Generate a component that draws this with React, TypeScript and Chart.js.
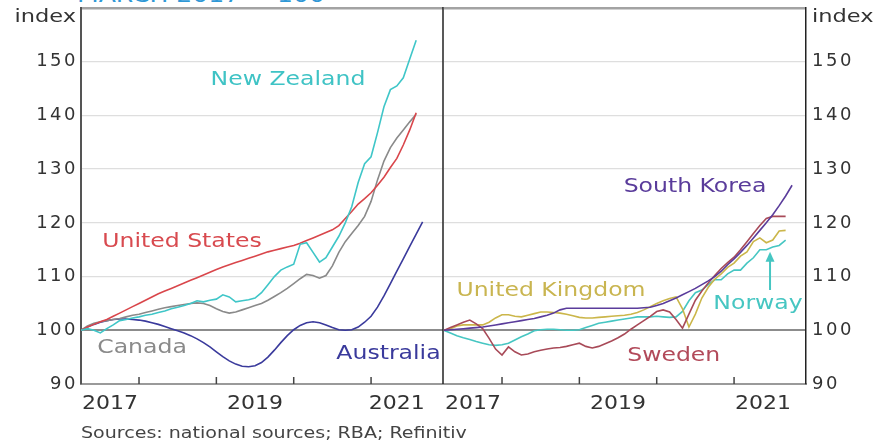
import React, { useEffect, useRef } from 'react';
import { Chart, registerables } from 'chart.js';

Chart.register(...registerables);

// ---- data (monthly, first point = March 2017 = 100) ----
const START = 2017.25;
const X_MIN = 2017.25;
const X_MAX = 2021.93;
const Y_MIN = 90;
const Y_MAX = 160;
const Y_STEP = 10;
const yearTicks = [2018, 2019, 2020, 2021];
const yearLabels = [2017, 2019, 2021];

const newZealand = [100, 100.3, 100, 99.5, 100.3, 101, 101.8, 102, 102.3, 102.5,
  102.8, 103, 103.3, 103.6, 104, 104.3, 104.6, 105, 105.5, 105.3,
  105.6, 105.8, 106.6, 106.2, 105.3, 105.5, 105.7, 106, 107, 108.5,
  110, 111.2, 111.8, 112.3, 116, 116.3, 114.5, 112.7, 113.5, 115.5,
  117.5, 120, 123, 127.5, 131, 132.3, 136.8, 141.6, 144.8, 145.5,
  147, 150.5, 154];
const unitedStates = [100, 100.6, 101.1, 101.6, 102, 102.6, 103.2, 103.8, 104.4, 105,
  105.6, 106.2, 106.8, 107.3, 107.8, 108.3, 108.8, 109.3, 109.8, 110.3,
  110.8, 111.3, 111.8, 112.2, 112.6, 113, 113.4, 113.8, 114.2, 114.6,
  114.9, 115.2, 115.5, 115.8, 116.2, 116.7, 117.2, 117.7, 118.2, 118.7,
  119.5, 120.8, 122.1, 123.5, 124.5, 125.6, 127, 128.5, 130.3, 132,
  134.5, 137.3, 140.5];
const canada = [100, 100.8, 101.3, 101.6, 101.8, 102, 102.2, 102.5, 102.8, 103,
  103.3, 103.6, 103.9, 104.2, 104.4, 104.6, 104.8, 105, 105.1, 105,
  104.6, 104, 103.5, 103.2, 103.4, 103.8, 104.2, 104.6, 105, 105.6,
  106.3, 107, 107.8, 108.7, 109.6, 110.4, 110.2, 109.7, 110.2, 112,
  114.5, 116.5, 118, 119.5, 121.2, 124, 128, 131.5, 134, 135.8,
  137.3, 138.8, 140.2];
const australia = [100, 100.6, 101.1, 101.5, 101.8, 102, 102.1, 102.1, 102, 101.9,
  101.7, 101.4, 101.1, 100.7, 100.3, 99.9, 99.5, 99, 98.4, 97.7,
  96.9, 96, 95.1, 94.3, 93.7, 93.3, 93.2, 93.4, 94, 95,
  96.3, 97.7, 99, 100.1, 100.9, 101.4, 101.6, 101.4, 101, 100.5,
  100.1, 100, 100.1, 100.6, 101.5, 102.6, 104.3, 106.4, 108.7, 111,
  113.3, 115.6, 117.9, 120.2];

const southKorea = [100, 100.1, 100.2, 100.3, 100.4, 100.5, 100.6, 100.8, 101, 101.2,
  101.4, 101.6, 101.8, 102, 102.2, 102.5, 102.8, 103.2, 103.8, 104.1,
  104.1, 104.1, 104.1, 104.1, 104.1, 104.1, 104.1, 104.1, 104.1, 104.1,
  104.1, 104.2, 104.3, 104.6, 105, 105.5, 106, 106.6, 107.2, 107.8,
  108.5, 109.2, 110, 111, 112.2, 113.3, 114.5, 115.8, 117.2, 118.6,
  120, 121.5, 123.2, 125, 127];
const unitedKingdom = [100, 100.3, 100.8, 101, 101, 101, 101, 101.5, 102.3, 102.9,
  102.9, 102.6, 102.5, 102.8, 103.1, 103.4, 103.4, 103.3, 103.2, 103,
  102.7, 102.4, 102.3, 102.3, 102.4, 102.5, 102.6, 102.7, 102.8, 103,
  103.3, 103.8, 104.4, 105, 105.5, 105.9, 106.2, 104, 100.6, 103,
  106, 108, 109.5, 110.5, 111.7, 112.5, 113.8, 114.6, 116.5, 117.2,
  116.3, 116.8, 118.5, 118.6];
const norway = [100, 99.5, 99, 98.6, 98.3, 97.9, 97.6, 97.3, 97.2, 97.3,
  97.6, 98.2, 98.8, 99.3, 99.9, 100.1, 100.2, 100.2, 100.1, 100,
  100, 100.1, 100.5, 100.9, 101.3, 101.5, 101.7, 101.9, 102.1, 102.3,
  102.5, 102.5, 102.5, 102.6, 102.5, 102.4, 102.5, 103.5, 105.5, 107,
  107.5, 108.5, 109.4, 109.4, 110.5, 111.2, 111.2, 112.5, 113.5, 115,
  115, 115.5, 115.8, 116.8];
const sweden = [100, 100.5, 101, 101.5, 101.9, 101.2, 100.3, 98.5, 96.5, 95.4,
  96.9, 96, 95.4, 95.6, 96, 96.3, 96.5, 96.7, 96.8, 97,
  97.3, 97.6, 97, 96.7, 97, 97.5, 98, 98.6, 99.3, 100.2,
  101, 101.8, 102.6, 103.5, 103.8, 103.4, 102, 100.4, 103, 105.6,
  107.3, 108.8, 110.2, 111.5, 112.6, 113.6, 115, 116.5, 118, 119.5,
  120.8, 121.2, 121.2, 121.2];

const FONT = 'DejaVu Sans';
const TICK_SPACING = '2.5px';

type Series = { name: string; values: number[]; color: string };
type Label = { text: string; t: number; v: number; color: string };
type Arrow = { t: number; from: number; to: number; color: string };

// first entry is drawn on top
const leftSeries: Series[] = [
  { name: 'New Zealand', values: newZealand, color: '#3fc6c8' },
  { name: 'United States', values: unitedStates, color: '#d9464b' },
  { name: 'Canada', values: canada, color: '#8a8a8a' },
  { name: 'Australia', values: australia, color: '#3a3a9c' },
];
const rightSeries: Series[] = [
  { name: 'South Korea', values: southKorea, color: '#5a3c9b' },
  { name: 'Sweden', values: sweden, color: '#a84a58' },
  { name: 'United Kingdom', values: unitedKingdom, color: '#cbb64a' },
  { name: 'Norway', values: norway, color: '#46c6c2' },
];

const leftLabels: Label[] = [
  { text: 'New Zealand', t: 2019.926, v: 146.6, color: '#3fc3c5' },
  { text: 'United States', t: 2018.556, v: 116.5, color: '#d84a4f' },
  { text: 'Canada', t: 2018.039, v: 96.7, color: '#8a8a8a' },
  { text: 'Australia', t: 2021.225, v: 95.6, color: '#3a3a9c' },
];
const rightLabels: Label[] = [
  { text: 'South Korea', t: 2020.495, v: 126.7, color: '#5a3c9b' },
  { text: 'United Kingdom', t: 2018.633, v: 107.3, color: '#c9b550' },
  { text: 'Norway', t: 2021.31, v: 104.9, color: '#46c6c2' },
  { text: 'Sweden', t: 2020.22, v: 95.2, color: '#b24a5a' },
];
const rightArrows: Arrow[] = [{ t: 2021.465, from: 107.5, to: 114.6, color: '#46c6c2' }];

function stretchedText(ctx: CanvasRenderingContext2D, text: string, x: number, y: number, sx: number) {
  ctx.save();
  ctx.translate(x, y);
  ctx.scale(sx, 1);
  ctx.fillText(text, 0, 0);
  ctx.restore();
}

function makeDecor(side: 'left' | 'right', labels: Label[], arrows: Arrow[], dataEnd: number) {
  return {
    id: 'decor-' + side,
    beforeUpdate(chart: any) { chart.ctx.letterSpacing = TICK_SPACING; },
    beforeDraw(chart: any) { chart.ctx.letterSpacing = TICK_SPACING; },
    afterDraw(chart: any) {
      const { ctx, chartArea: ca, scales } = chart;
      const xs = scales.x;
      const ys = scales.y;
      ctx.save();
      // tick marks pointing into the plot
      ctx.strokeStyle = '#444';
      ctx.lineWidth = 1.5;
      for (const yr of yearTicks) {
        const px = xs.getPixelForValue(yr);
        ctx.beginPath();
        ctx.moveTo(px, ca.bottom);
        ctx.lineTo(px, ca.bottom - 7);
        ctx.stroke();
      }
      // divider between panels
      if (side === 'left') {
        ctx.strokeStyle = '#222';
        ctx.lineWidth = 1.5;
        ctx.beginPath();
        ctx.moveTo(ca.right, ca.top - 1);
        ctx.lineTo(ca.right, ca.bottom);
        ctx.stroke();
      }
      ctx.letterSpacing = '0px';
      // year labels centred on the part of each year covered by data
      ctx.fillStyle = '#333';
      ctx.font = `20px "${FONT}"`;
      ctx.textAlign = 'center';
      ctx.textBaseline = 'middle';
      for (const yr of yearLabels) {
        const lo = Math.max(yr, START);
        const hi = Math.min(yr + 1, dataEnd);
        stretchedText(ctx, String(yr), xs.getPixelForValue((lo + hi) / 2), ca.bottom + 20, 1.1);
      }
      // "index" axis title
      ctx.font = `18px "${FONT}"`;
      if (side === 'left') {
        ctx.textAlign = 'right';
        stretchedText(ctx, 'index', ca.left - 5, 17, 1.25);
      } else {
        ctx.textAlign = 'left';
        stretchedText(ctx, 'index', ca.right + 6, 17, 1.25);
      }
      // series labels
      ctx.font = `19px "${FONT}"`;
      ctx.textAlign = 'center';
      for (const l of labels) {
        ctx.fillStyle = l.color;
        stretchedText(ctx, l.text, xs.getPixelForValue(l.t), ys.getPixelForValue(l.v), 1.24);
      }
      // arrows
      for (const a of arrows) {
        const px = xs.getPixelForValue(a.t);
        const y0 = ys.getPixelForValue(a.from);
        const y1 = ys.getPixelForValue(a.to);
        ctx.strokeStyle = a.color;
        ctx.fillStyle = a.color;
        ctx.lineWidth = 2;
        ctx.beginPath();
        ctx.moveTo(px, y0);
        ctx.lineTo(px, y1 + 8);
        ctx.stroke();
        ctx.beginPath();
        ctx.moveTo(px, y1);
        ctx.lineTo(px - 4.5, y1 + 10);
        ctx.lineTo(px + 4.5, y1 + 10);
        ctx.closePath();
        ctx.fill();
      }
      ctx.restore();
    },
  };
}

function buildChart(canvas: HTMLCanvasElement, side: 'left' | 'right', series: Series[], labels: Label[], arrows: Arrow[]) {
  const maxLen = Math.max(...series.map((s) => s.values.length));
  const dataEnd = START + (maxLen - 1) / 12;
  return new Chart(canvas, {
    type: 'line',
    data: {
      datasets: series.map((s) => ({
        label: s.name,
        data: s.values.map((v, i) => ({ x: START + i / 12, y: v })),
        borderColor: s.color,
        backgroundColor: s.color,
        borderWidth: 1.6,
        pointRadius: 0,
        tension: 0,
        fill: false,
      })),
    },
    options: {
      responsive: false,
      animation: false,
      events: [],
      layout: { padding: { top: 8, right: side === 'left' ? 1 : 0, left: 0, bottom: 0 } },
      plugins: { legend: { display: false }, tooltip: { enabled: false } },
      scales: {
        x: {
          type: 'linear',
          min: X_MIN,
          max: X_MAX,
          grid: { display: false },
          ticks: { display: false },
          border: { display: true, color: '#9a9a9a', width: 2 },
          afterFit: (s: any) => { s.height = 60; s.paddingLeft = 0; s.paddingRight = 0; },
        },
        y: {
          type: 'linear',
          position: side,
          min: Y_MIN,
          max: Y_MAX,
          ticks: {
            stepSize: Y_STEP,
            color: '#333',
            padding: side === 'left' ? 3 : 6,
            font: { family: FONT, size: 18 },
            callback: (v: any) => (v === Y_MAX ? '' : String(v)),
          },
          grid: {
            drawTicks: false,
            color: (c: any) => {
              const v = c.tick && c.tick.value;
              if (v === 100) return '#8c8c8c';
              if (v === Y_MAX) return '#a3a3a3';
              if (v === Y_MIN) return 'rgba(0,0,0,0)';
              return '#dedede';
            },
            lineWidth: (c: any) => {
              const v = c.tick && c.tick.value;
              if (v === 100) return 2;
              if (v === Y_MAX) return 2.5;
              return 1.3;
            },
          },
          border: { display: true, color: side === 'left' ? '#555' : '#222', width: side === 'left' ? 2 : 1.5 },
          afterFit: (s: any) => { s.width = side === 'left' ? 81 : 73; s.paddingTop = 0; s.paddingBottom = 0; },
        },
      },
    },
    plugins: [makeDecor(side, labels, arrows, dataEnd)],
  } as any);
}

export default function App() {
  const leftRef = useRef<HTMLCanvasElement | null>(null);
  const rightRef = useRef<HTMLCanvasElement | null>(null);

  useEffect(() => {
    const c1 = buildChart(leftRef.current!, 'left', leftSeries, leftLabels, []);
    const c2 = buildChart(rightRef.current!, 'right', rightSeries, rightLabels, rightArrows);
    return () => { c1.destroy(); c2.destroy(); };
  }, []);

  return (
    <div style={{ position: 'fixed', left: 0, top: 0, width: 879, height: 444, overflow: 'hidden', background: '#fff' }}>
      <div style={{ position: 'absolute', left: 77, top: -16, height: 22, fontFamily: FONT, fontSize: 22, lineHeight: '22px', color: '#2f98d6', whiteSpace: 'nowrap', transform: 'scaleX(1.14)', transformOrigin: 'left top' }}>
        MARCH 2017 = 100
      </div>
      <canvas ref={leftRef} width={444} height={444} style={{ position: 'absolute', left: 0, top: 0 }} />
      <canvas ref={rightRef} width={435} height={444} style={{ position: 'absolute', left: 444, top: 0 }} />
      <div style={{ position: 'absolute', left: 81, top: 424, fontFamily: FONT, fontSize: 16, lineHeight: '18px', color: '#444', whiteSpace: 'nowrap', transform: 'scaleX(1.19)', transformOrigin: 'left top' }}>
        Sources: national sources; RBA; Refinitiv
      </div>
    </div>
  );
}
